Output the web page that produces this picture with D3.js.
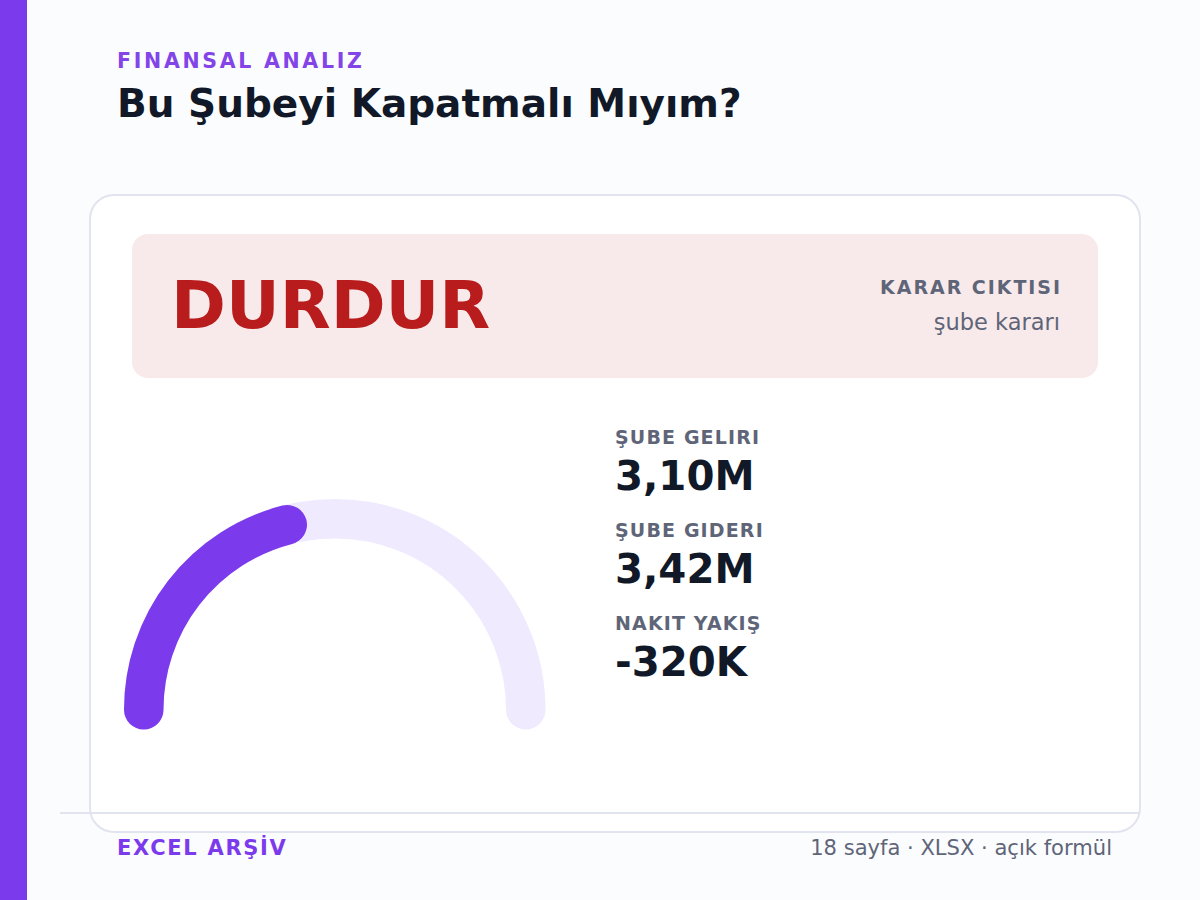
<!DOCTYPE html>
<html><head><meta charset="utf-8">
<script src="https://cdnjs.cloudflare.com/ajax/libs/d3/7.8.5/d3.min.js"></script>
<style>html,body{margin:0;padding:0;background:#fbfcfe}svg{display:block}text{font-family:"DejaVu Sans",sans-serif}</style>
</head><body><svg id="c" width="1200" height="900"></svg>
<script>
const kicker="FINANSAL ANALIZ";
const title="Bu Şubeyi Kapatmalı Mıyım?";
const verdict="DURDUR";
const outputLabel="KARAR CIKTISI";
const outputSub="şube kararı";
const metricLabels=["ŞUBE GELIRI","ŞUBE GIDERI","NAKIT YAKIŞ"];
const metricValues=["3,10M","3,42M","-320K"];
const gaugeValue=[0.42];
const gaugeDomain=[0,1];
const footerLeft="EXCEL ARŞİV";
const footerRight="18 sayfa · XLSX · açık formül";

const svg=d3.select("#c");
const T=(x,y,s,size,weight,fill,anchor,ls)=>svg.append("text").attr("x",x).attr("y",y).text(s)
 .attr("font-size",size).attr("font-weight",weight).attr("fill",fill).attr("text-anchor",anchor||"start").attr("letter-spacing",ls||0);

svg.append("rect").attr("width",1200).attr("height",900).attr("fill","#fbfcfe");
svg.append("rect").attr("width",27).attr("height",900).attr("fill","#7c3aed");
T(117,67.5,kicker,20.5,700,"#8344e8","start",2.7);
T(117,117,title,39,700,"#111827");
svg.append("rect").attr("x",90).attr("y",195).attr("width",1050).attr("height",637).attr("rx",24).attr("fill","#fff").attr("stroke","#e1e4ee").attr("stroke-width",2);
svg.append("rect").attr("x",132).attr("y",234).attr("width",966).attr("height",144).attr("rx",16).attr("fill","#f8eaea");
T(171,328,verdict,66.2,700,"#b91c1c");
T(1062,294,outputLabel,19,700,"#5f6578","end",1.95);
T(1060,330,outputSub,22.5,400,"#5f6578","end");

const angle=d3.scaleLinear().domain(gaugeDomain).range([-Math.PI,0]);
const gaugeArc=(v)=>{const p=d3.path();p.arc(0,0,191,angle(0),angle(v));return p.toString();};
const g=svg.append("g").attr("transform","translate(334.75,709.75)");
g.append("path").attr("d",gaugeArc(1)).attr("fill","none").attr("stroke","#f0eaff").attr("stroke-width",39.5).attr("stroke-linecap","round");
g.append("path").attr("d",gaugeArc(gaugeValue[0])).attr("fill","none").attr("stroke","#7c3aed").attr("stroke-width",39.5).attr("stroke-linecap","round");

metricLabels.forEach((l,i)=>{
 T(615,444+93*i,l,19,700,"#5f6578","start",1.14);
 T(615,489.5+93*i,metricValues[i],40.3,700,"#111827");
});
svg.append("line").attr("x1",60).attr("x2",1140).attr("y1",813).attr("y2",813).attr("stroke","#e1e4ee").attr("stroke-width",2);
T(117,855,footerLeft,21,700,"#7c3aed","start",1.7);
T(1112,855,footerRight,21.07,400,"#5f6578","end");
</script></body></html>
